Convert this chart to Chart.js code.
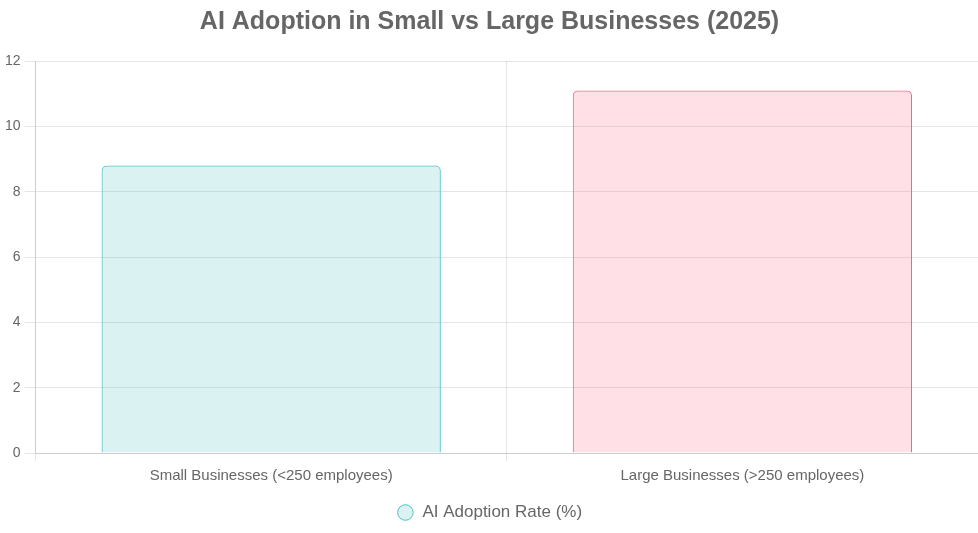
<!DOCTYPE html>
<html>
<head>
<meta charset="utf-8">
<script src="https://cdn.jsdelivr.net/npm/chart.js@4/dist/chart.umd.min.js"></script>
<style>
  html, body { margin: 0; padding: 0; background: #fff; }
  #wrap { width: 978px; height: 533px; }
</style>
</head>
<body>
<div id="wrap"><canvas id="chart"></canvas></div>
<script>
// data
const categories = ['Small Businesses (<250 employees)', 'Large Businesses (>250 employees)'];
const adoptionRate = [8.8, 11.1];
const seriesLabel = 'AI Adoption Rate (%)';

// colours
const teal = 'rgb(75, 192, 192)';
const pink = 'rgb(255, 99, 132)';
const tealFill = 'rgba(75, 192, 192, 0.2)';
const pinkFill = 'rgba(255, 99, 132, 0.2)';
const textColor = '#666';

Chart.defaults.font.family = '"Liberation Sans", Arial, sans-serif';
Chart.defaults.color = textColor;

var ctx = document.getElementById('chart').getContext('2d');
new Chart(ctx, {
    type: 'bar',
    data: {
        labels: categories,
        datasets: [{
            label: seriesLabel,
            data: adoptionRate,
            backgroundColor: [tealFill, pinkFill],
            borderColor: [teal, pink],
            borderWidth: 1,
            borderRadius: 5
        }]
    },
    options: {
        responsive: true,
        maintainAspectRatio: false,
        animation: false,
        layout: {
            padding: { left: 1, bottom: 2 }
        },
        plugins: {
            title: {
                display: true,
                text: 'AI Adoption in Small vs Large Businesses (2025)',
                color: textColor,
                font: { size: 25, weight: 'bold' },
                padding: { top: 7, bottom: 24 }
            },
            legend: {
                position: 'bottom',
                labels: {
                    usePointStyle: true,
                    pointStyle: 'circle',
                    boxHeight: 11,
                    font: { size: 17 },
                    color: textColor,
                    padding: 13
                }
            }
        },
        scales: {
            x: {
                ticks: { font: { size: 15 }, color: textColor, padding: 6 }
            },
            y: {
                beginAtZero: true,
                max: 12,
                grid: { tickLength: 11 },
                ticks: { stepSize: 2, font: { size: 14 }, color: textColor, padding: 4 }
            }
        }
    }
});
</script>
</body>
</html>
